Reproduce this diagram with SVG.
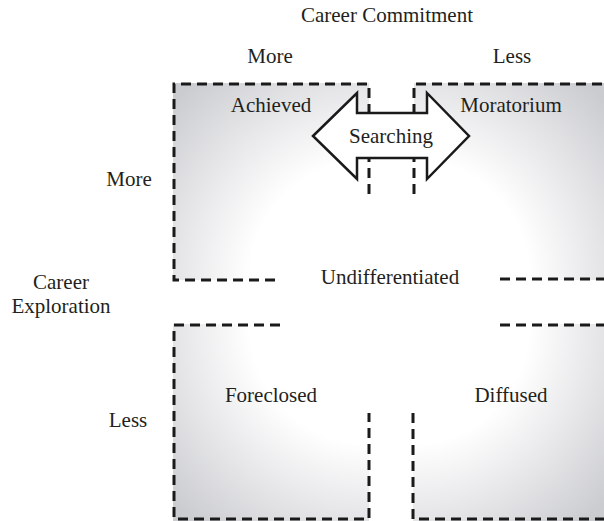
<svg xmlns="http://www.w3.org/2000/svg" width="604" height="521" viewBox="0 0 604 521">
  <defs>
    <radialGradient id="gTL" cx="1" cy="1" r="1.35" gradientUnits="objectBoundingBox">
      <stop offset="0" stop-color="#ffffff"/>
      <stop offset="0.45" stop-color="#ffffff"/>
      <stop offset="1" stop-color="#cbccd0"/>
    </radialGradient>
    <radialGradient id="gTR" cx="0" cy="1" r="1.35" gradientUnits="objectBoundingBox">
      <stop offset="0" stop-color="#ffffff"/>
      <stop offset="0.45" stop-color="#ffffff"/>
      <stop offset="1" stop-color="#cbccd0"/>
    </radialGradient>
    <radialGradient id="gBL" cx="1" cy="0" r="1.35" gradientUnits="objectBoundingBox">
      <stop offset="0" stop-color="#ffffff"/>
      <stop offset="0.45" stop-color="#ffffff"/>
      <stop offset="1" stop-color="#cbccd0"/>
    </radialGradient>
    <radialGradient id="gBR" cx="0" cy="0" r="1.35" gradientUnits="objectBoundingBox">
      <stop offset="0" stop-color="#ffffff"/>
      <stop offset="0.45" stop-color="#ffffff"/>
      <stop offset="1" stop-color="#cbccd0"/>
    </radialGradient>
  </defs>
  <style>
    text { font-family: "Liberation Serif", "Times New Roman", serif; font-size: 21px; fill: #231f20; text-anchor: middle; }
    .dash { fill: none; stroke: #1a1a1a; stroke-width: 3; stroke-dasharray: 10 6; }
    .arrow { fill: #ffffff; stroke: #1a1a1a; stroke-width: 2.5; stroke-linejoin: miter; }
  </style>

  <g id="axis-labels">
    <text x="387" y="22">Career Commitment</text>
    <text x="270" y="63">More</text>
    <text x="512" y="63">Less</text>
    <text x="129" y="186">More</text>
    <text x="61" y="289">Career</text>
    <text x="61" y="313">Exploration</text>
    <text x="128" y="427">Less</text>
  </g>

  <g id="achieved">
    <rect x="173" y="83" width="196" height="197" fill="url(#gTL)"/>
    <path class="dash" d="M275,280 H174 V84 H369 V194"/>
    <text x="271" y="112">Achieved</text>
  </g>

  <g id="moratorium">
    <rect x="414" y="83" width="190" height="197" fill="url(#gTR)"/>
    <path class="dash" d="M414,194 V84 H604"/>
    <path class="dash" d="M500,279 H604"/>
    <text x="511" y="112">Moratorium</text>
  </g>

  <g id="foreclosed">
    <rect x="173" y="324" width="196" height="197" fill="url(#gBL)"/>
    <path class="dash" d="M280,325 H174 V519 H369 V413"/>
    <text x="271" y="402">Foreclosed</text>
  </g>

  <g id="diffused">
    <rect x="413" y="324" width="191" height="197" fill="url(#gBR)"/>
    <path class="dash" d="M500,325 H604"/>
    <path class="dash" d="M413,413 V519 H604"/>
    <text x="511" y="402">Diffused</text>
  </g>

  <g id="undifferentiated">
    <text x="390" y="284">Undifferentiated</text>
  </g>

  <g id="connectors">
    <g id="searching">
      <polygon class="arrow" points="313,136 357,93 357,113 427,113 427,93 469,136 427,179 427,158 357,158 357,179"/>
      <text x="391" y="143">Searching</text>
    </g>
  </g>
</svg>
